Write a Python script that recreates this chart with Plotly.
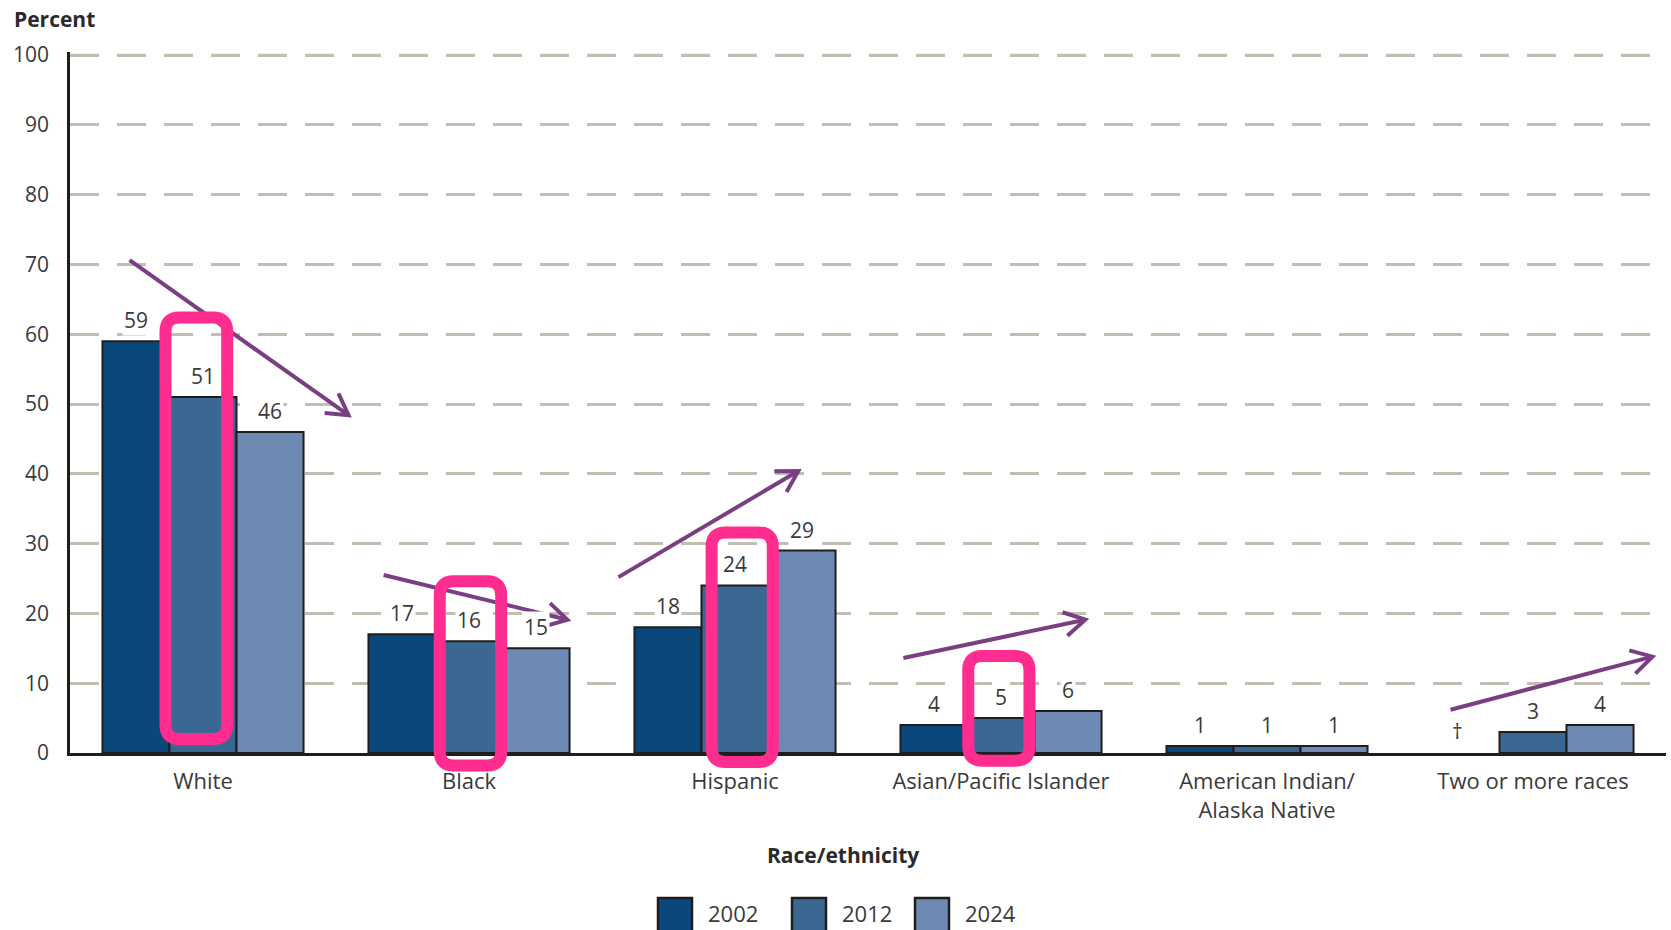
import math
import plotly.graph_objects as go

# ---------------- data ----------------
categories = ["White", "Black", "Hispanic", "Asian/Pacific Islander",
              "American Indian/<br>Alaska Native", "Two or more races"]
years = ["2002", "2012", "2024"]
values_2002 = [59, 17, 18, 4, 1, None]
values_2012 = [51, 16, 24, 5, 1, 3]
values_2024 = [46, 15, 29, 6, 1, 4]
missing_mark = "†"
y_ticks = [0, 10, 20, 30, 40, 50, 60, 70, 80, 90, 100]

# highlight boxes around the 2012 bars: (x0, x1, y0, y1) in category-index / percent units
highlight_boxes = [(-0.141, 0.091, 2.0, 62.4),
                   (0.890, 1.121, -1.8, 24.6),
                   (1.912, 2.142, -1.3, 31.6),
                   (2.877, 3.107, -1.1, 13.9)]
# trend arrows: (x_start, y_start, x_end, y_end)
trend_arrows = [(-0.276, 70.6, 0.547, 48.4),
                (0.679, 25.5, 1.370, 19.1),
                (1.562, 25.2, 2.238, 40.4),
                (2.633, 13.6, 3.317, 19.1),
                (4.690, 6.2, 5.449, 13.8)]

colors = ["#0a477b", "#3a6892", "#6e8ab2"]
series = [values_2002, values_2012, values_2024]

# ---------------- geometry ----------------
W, H = 1671, 930
L, R, B = 70, 1666, 753
Y100_PX = 55                      # pixel row of the 100% line
T = 52
XR = (-0.5, 5.5)
YR = (0, 100 * (B - T) / (B - Y100_PX))
FONT = "Open Sans"
TXT = "#3a3a3a"

def px_x(x):
    return L + (x - XR[0]) / (XR[1] - XR[0]) * (R - L)

def px_y(y):
    return B - (y - YR[0]) / (YR[1] - YR[0]) * (B - T)

def pap_x(p):
    return (p - L) / (R - L)

def pap_y(p):
    return (B - p) / (B - T)

bargap = 0.244
bw = (1 - bargap) / 3

fig = go.Figure()
xs = list(range(len(categories)))
for name, vals, col in zip(years, series, colors):
    fig.add_trace(go.Bar(
        x=xs, y=vals, name=name, marker=dict(color=col, line=dict(color="#1e1e1e", width=2)),
        showlegend=False, hoverinfo="x+y"))

annotations = []
# value labels
for j, vals in enumerate(series):
    for i, v in enumerate(vals):
        xpos = i + (j - 1) * bw
        if v is None:
            annotations.append(dict(x=xpos - 0.03, y=0, xref="x", yref="y", text=missing_mark,
                                    showarrow=False, yanchor="bottom", yshift=6,
                                    font=dict(family=FONT, size=21, color=TXT)))
        else:
            annotations.append(dict(x=xpos, y=v, xref="x", yref="y", text=str(v),
                                    showarrow=False, yanchor="bottom", yshift=5,
                                    bgcolor="white", borderpad=1,
                                    font=dict(family=FONT, size=21, color=TXT)))

annotations.append(dict(x=pap_x(12), y=pap_y(19), xref="paper", yref="paper", text="<b>Percent</b>",
                        showarrow=False, xanchor="left", yanchor="middle",
                        font=dict(family=FONT, size=21, color="#2a2a2a")))
annotations.append(dict(x=pap_x(843), y=pap_y(855), xref="paper", yref="paper",
                        text="<b>Race/ethnicity</b>", showarrow=False, xanchor="center",
                        yanchor="middle", font=dict(family=FONT, size=21, color="#2a2a2a")))

shapes = []
# 100% gridline (the top edge of the plot)
shapes.append(dict(type="line", xref="paper", yref="y", x0=0, x1=1, y0=100, y1=100,
                   line=dict(color="#c2beb2", width=2.5, dash="29px,18px"), layer="below"))

# custom legend
leg_x = [658, 792, 915]
for name, col, lx in zip(years, colors, leg_x):
    shapes.append(dict(type="rect", xref="paper", yref="paper",
                       x0=pap_x(lx), x1=pap_x(lx + 34), y0=pap_y(898), y1=pap_y(934),
                       fillcolor=col, line=dict(color="#1e1e1e", width=2.5)))
    annotations.append(dict(x=pap_x(lx + 48), y=pap_y(913), xref="paper", yref="paper",
                            text=name, showarrow=False, xanchor="left", yanchor="middle",
                            font=dict(family=FONT, size=22, color=TXT)))

# trend arrows
PURPLE = "#7a3f82"
for (x0, y0, x1, y1) in trend_arrows:
    p0 = (px_x(x0), px_y(y0))
    p1 = (px_x(x1), px_y(y1))
    shapes.append(dict(type="line", xref="paper", yref="paper",
                       x0=pap_x(p0[0]), y0=pap_y(p0[1]), x1=pap_x(p1[0]), y1=pap_y(p1[1]),
                       line=dict(color=PURPLE, width=4), layer="above"))
    ang = math.atan2(p1[1] - p0[1], p1[0] - p0[0])
    hl = 24
    pts = []
    for da in (math.radians(150), -math.radians(150)):
        pts.append((p1[0] + hl * math.cos(ang + da), p1[1] + hl * math.sin(ang + da)))
    path = "M {:.5f},{:.5f} L {:.5f},{:.5f} L {:.5f},{:.5f}".format(
        pap_x(pts[0][0]), pap_y(pts[0][1]), pap_x(p1[0]), pap_y(p1[1]),
        pap_x(pts[1][0]), pap_y(pts[1][1]))
    shapes.append(dict(type="path", xref="paper", yref="paper", path=path,
                       line=dict(color=PURPLE, width=4), layer="above"))

# highlight boxes (rounded rectangles)
PINK = "#ff2d8f"
for (x0, x1, y0, y1) in highlight_boxes:
    a, b = px_x(x0), px_x(x1)
    top, bot = px_y(y1), px_y(y0)
    r = 14
    P = lambda x, y: "{:.5f},{:.5f}".format(pap_x(x), pap_y(y))
    path = ("M " + P(a + r, top) + " L " + P(b - r, top) + " Q " + P(b, top) + " " + P(b, top + r) +
            " L " + P(b, bot - r) + " Q " + P(b, bot) + " " + P(b - r, bot) +
            " L " + P(a + r, bot) + " Q " + P(a, bot) + " " + P(a, bot - r) +
            " L " + P(a, top + r) + " Q " + P(a, top) + " " + P(a + r, top) + " Z")
    shapes.append(dict(type="path", xref="paper", yref="paper", path=path,
                       line=dict(color=PINK, width=12), layer="above"))

fig.update_layout(
    width=W, height=H,
    margin=dict(l=L, r=W - R, t=T, b=H - B, pad=0),
    paper_bgcolor="white", plot_bgcolor="white",
    barmode="group", bargap=bargap, bargroupgap=0,
    showlegend=False,
    font=dict(family=FONT, size=21, color=TXT),
    annotations=annotations, shapes=shapes,
    xaxis=dict(range=list(XR), tickmode="array", tickvals=xs, ticktext=categories,
               showgrid=False, zeroline=False, showline=True, linecolor="#1e1e1e", linewidth=2.5,
               ticks="", ticklabelstandoff=7, tickfont=dict(family=FONT, size=22, color=TXT),
               fixedrange=True),
    yaxis=dict(range=list(YR), tickmode="array", tickvals=y_ticks, showgrid=True,
               gridcolor="#c2beb2", gridwidth=2.5, griddash="29px,18px",
               zeroline=False, showline=True, linecolor="#1e1e1e", linewidth=2.5,
               ticks="", ticklabelstandoff=14, tickfont=dict(family=FONT, size=21, color=TXT),
               fixedrange=True),
)

fig.write_html("out.html", config={"displayModeBar": False},
               post_script="document.body.style.margin='0';")
